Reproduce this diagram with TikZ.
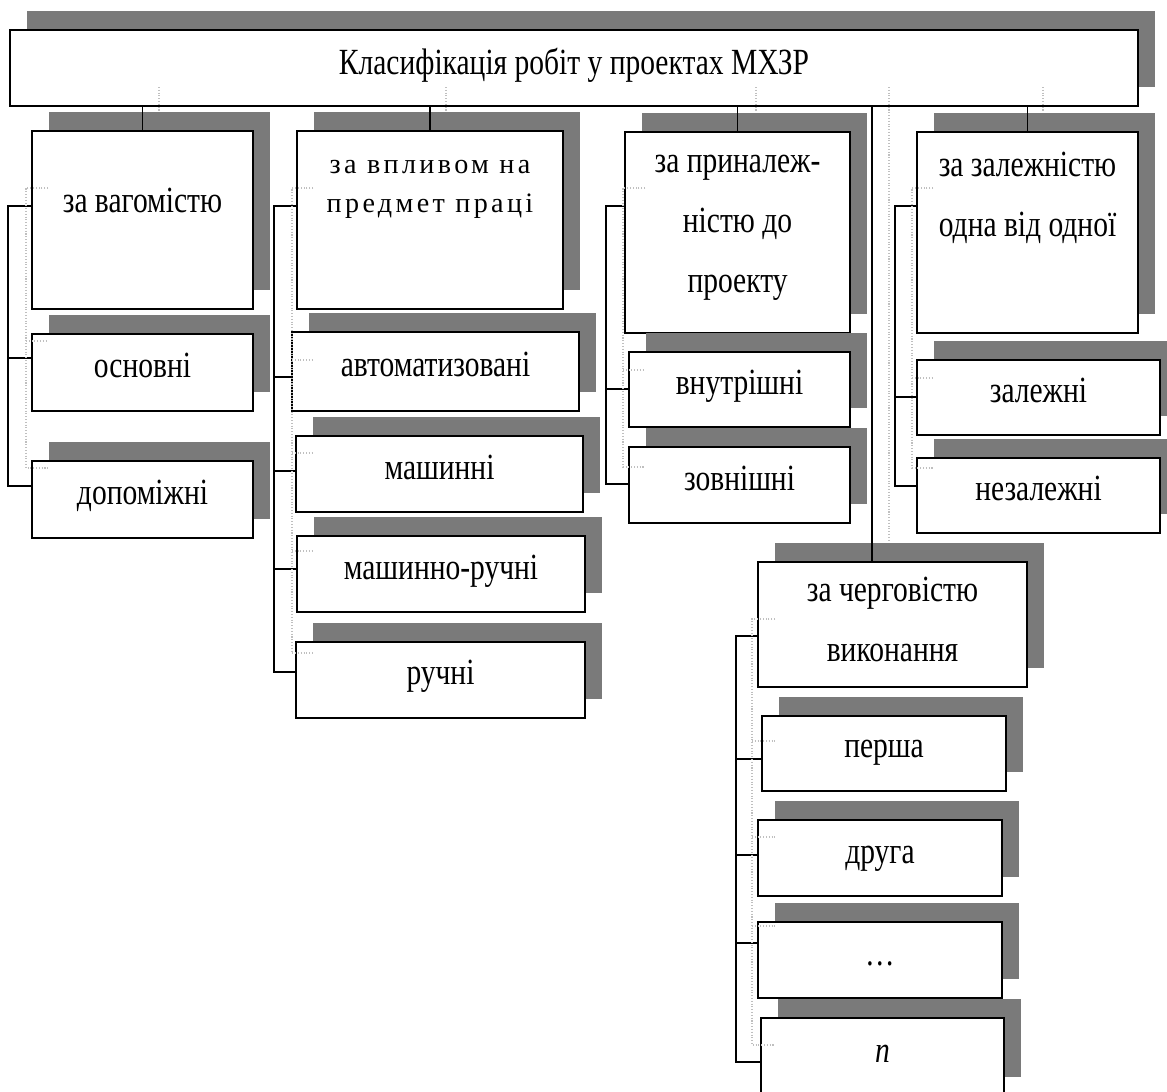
\documentclass[tikz,border=0pt]{standalone}
\usepackage{fontspec}
\setmainfont{Liberation Serif}[FakeStretch=0.8]
\newfontfamily\spacedfont{Liberation Serif}[LetterSpace=12]
\usepackage{tikz}
\usetikzlibrary{fit, calc, shadows}

\begin{document}
\begin{tikzpicture}[
  x=0.02cm, y=-0.02cm,
  cell/.style={draw, line width=1.1pt, fill=white, inner sep=0pt,
               drop shadow={shadow xshift=0.34cm, shadow yshift=0.38cm,
                            opacity=1, fill=black!52}},
  caption/.style={font=\fontsize{21}{34}\selectfont, align=center,
                  inner sep=0pt, anchor=base},
  link/.style={line width=1pt},
  ghost/.style={gray!50, densely dotted, line width=0.6pt}
]
\useasboundingbox (0,0) rectangle (1167,1092);

\node[cell, fit={(10,30) (1138,106)}] (top) {};
\node[caption] (ttop) at ($(top.center)+(0,6)$) {Класифікація робіт у проектах МХЗР};

\node[cell, fit={(32,131) (253,309)}] (cw) {};
\node[caption] (tw) at ($(cw.north)+(0,82)$) {за вагомістю};
\node[cell, fit={(32,334) (253,411)}] (co) {};
\node[caption] (to) at ($(co.center)+(0,5)$) {основні};
\node[cell, fit={(32,461) (253,538)}] (cd) {};
\node[caption] (td) at ($(cd.center)+(0,5)$) {допоміжні};

\node[cell, fit={(297,131) (563,309)}] (vp) {};
\node[caption, font=\fontsize{16}{22}\selectfont\spacedfont] (tv)
  at ($(vp.north)+(0,82)$) {за впливом на\\предмет праці};
\node[cell, fit={(292,332) (579,411)}] (va) {};
\node[caption] (ta) at ($(va.center)+(0,5)$) {автоматизовані};
\node[cell, fit={(296,436) (583,512)}] (vm) {};
\node[caption] (tm) at ($(vm.center)+(0,5)$) {машинні};
\node[cell, fit={(297,536) (585,612)}] (vmr) {};
\node[caption] (tmr) at ($(vmr.center)+(0,5)$) {машинно-ручні};
\node[cell, fit={(296,642) (585,718)}] (vh) {};
\node[caption] (th) at ($(vh.center)+(0,4)$) {ручні};

\node[cell, fit={(625,132) (850,333)}] (pp) {};
\node[caption] (tpp) at ($(pp.north)+(0,161)$) {за приналеж-\\ністю до\\проекту};
\node[cell, fit={(629,352) (850,427)}] (pi) {};
\node[caption] (ti) at ($(pi.center)+(0,5)$) {внутрішні};
\node[cell, fit={(629,447) (850,523)}] (pz) {};
\node[caption] (tz) at ($(pz.center)+(0,5)$) {зовнішні};

\node[cell, fit={(917,132) (1138,333)}] (zz) {};
\node[caption] (tzz) at ($(zz.north)+(0,105)$) {за залежністю\\одна від одної};
\node[cell, fit={(917,360) (1160,435)}] (zd) {};
\node[caption] (tzd) at ($(zd.center)+(0,5)$) {залежні};
\node[cell, fit={(917,458) (1160,533)}] (zn) {};
\node[caption] (tzn) at ($(zn.center)+(0,5)$) {незалежні};

\node[cell, fit={(758,562) (1027,687)}] (qq) {};
\node[caption] (tqq) at ($(qq.north)+(0,100)$) {за черговістю\\виконання};
\node[cell, fit={(762,716) (1006,791)}] (q1) {};
\node[caption] (tq1) at ($(q1.center)+(0,4)$) {перша};
\node[cell, fit={(758,820) (1002,896)}] (q2) {};
\node[caption] (tq2) at ($(q2.center)+(0,5)$) {друга};
\node[cell, fit={(758,922) (1002,998)}] (q3) {};
\node[caption] (tq3) at ($(q3.center)+(0,5)$) {\ldots};
\node[cell, fit={(761,1018) (1004,1096)}] (qn) {};
\node[caption] (tqn) at ($(qn.center)+(0,5)$) {\textit{n}};

\draw[link] (cw.north) -- (cw.north |- top.south);
\draw[link] (vp.north) -- (vp.north |- top.south);
\draw[link] (pp.north) -- (pp.north |- top.south);
\draw[link] (zz.north) -- (zz.north |- top.south);
\coordinate (qtop) at ($(qq.north west)+(115,0)$);
\draw[link] (qtop) -- (qtop |- top.south);

\draw[link] ($(cw.north west)+(0,76)$) -- ++(-23,0) |- ($(cd.north west)+(0,26)$);
\draw[link] ($(co.north west)+(0,25)$) -- ++(-23,0);

\draw[link] ($(vp.north west)+(0,76)$) -- ++(-22,0) |- ($(vh.north west)+(0,31)$);
\draw[link] ($(va.north west)+(0,46)$) -- ++(-17,0);
\draw[link] ($(vm.north west)+(0,36)$) -- ++(-21,0);
\draw[link] ($(vmr.north west)+(0,34)$) -- ++(-22,0);

\draw[link] ($(pp.north west)+(0,75)$) -- ++(-18,0) |- ($(pz.north west)+(0,38)$);
\draw[link] ($(pi.north west)+(0,38)$) -- ++(-22,0);

\draw[link] ($(zz.north west)+(0,75)$) -- ++(-21,0) |- ($(zn.north west)+(0,29)$);
\draw[link] ($(zd.north west)+(0,38)$) -- ++(-21,0);

\draw[link] ($(qq.north west)+(0,75)$) -- ++(-21,0) |- ($(qn.north west)+(0,45)$);
\draw[link] ($(q1.north west)+(0,44)$) -- ++(-25,0);
\draw[link] ($(q2.north west)+(0,36)$) -- ++(-21,0);
\draw[link] ($(q3.north west)+(0,22)$) -- ++(-21,0);

\draw[ghost] (159,87) -- (159,111) (446,87) -- (446,111)
  (756,87) -- (756,111) (1043,87) -- (1043,111) (889,87) -- (889,542);
\draw[ghost] (48,188) -| (26,468) -- (48,468) (26,341) -- (48,341);
\draw[ghost] (313,188) -| (292,653) -- (313,653)
  (292,360) -- (313,360) (292,453) -- (313,453) (292,551) -- (313,551);
\draw[ghost] (645,188) -| (623,467) -- (645,467) (623,370) -- (645,370);
\draw[ghost] (933,188) -| (912,468) -- (933,468) (912,378) -- (933,378);
\draw[ghost] (775,619) -| (752,1045) -- (775,1045)
  (752,741) -- (775,741) (752,837) -- (775,837) (752,926) -- (775,926);

\end{tikzpicture}
\end{document}
